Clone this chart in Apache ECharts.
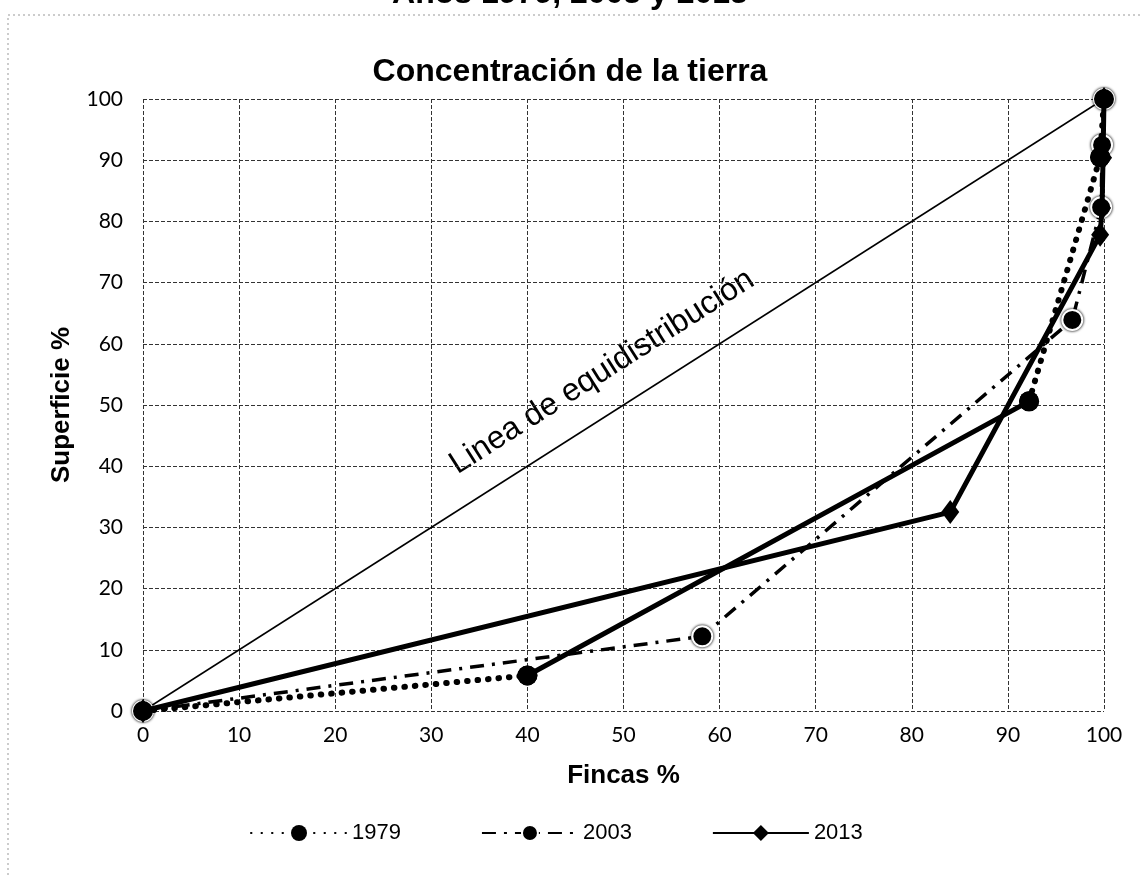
<!DOCTYPE html>
<html>
<head>
<meta charset="utf-8">
<title>Concentración de la tierra</title>
<script src="https://cdn.jsdelivr.net/npm/echarts@6/dist/echarts.min.js"></script>
<style>
  html, body { margin: 0; padding: 0; background: #fff; }
  #chart { width: 1140px; height: 875px; }
</style>
</head>
<body>
<div id="chart"></div>
<script>
  // % acumulado de fincas (x) y de superficie (y)
  var fincas1979 = [0, 40, 92.2, 99.6, 100]
  var superficie1979 = [0, 5.8, 50.6, 90.5, 100]
  // el tramo central de 1979 aparece como línea continua en el original
  var tramos1979 = ['dotted', 'solid', 'dotted', 'dotted']

  var fincas2003 = [0, 58.2, 96.7, 99.7, 99.8, 100]
  var superficie2003 = [0, 12.2, 63.9, 82.3, 92.5, 100]

  var fincas2013 = [0, 84, 99.6, 99.8, 99.9, 100]
  var superficie2013 = [0, 32.5, 77.8, 82.2, 90.4, 100]

  var equidistribucion = [0, 100]
  var años = ['1979', '2003', '2013']

  var pares = function (xs, ys) {
    return xs.map(function (x, i) { return [x, ys[i]] })
  }

  var punteado = [0.5, 10]
  var rayaPunto = [14, 8, 3, 8]

  var chart = echarts.init(document.getElementById('chart'), null, {renderer: 'canvas'})

  var series = []

  // 1979: un trazo por tramo para poder cambiar el estilo de línea
  var p1979 = pares(fincas1979, superficie1979)
  tramos1979.forEach(function (tipo, i) {
    series.push({
      name: años[0],
      type: 'line',
      data: [p1979[i], p1979[i + 1]],
      symbol: 'circle',
      symbolSize: 20,
      itemStyle: {color: '#000'},
      lineStyle: {
        color: '#000',
        width: tipo === 'solid' ? 5 : 6,
        type: tipo === 'solid' ? 'solid' : punteado,
        cap: 'round'
      },
      z: 3
    })
  })

  series.push({
    name: años[1],
    type: 'line',
    data: pares(fincas2003, superficie2003),
    symbol: 'circle',
    symbolSize: 20,
    itemStyle: {color: '#000', borderColor: '#fff', borderWidth: 2, shadowColor: '#000', shadowBlur: 3},
    lineStyle: {color: '#000', width: 3.5, type: rayaPunto},
    z: 2
  })

  series.push({
    name: años[2],
    type: 'line',
    data: pares(fincas2013, superficie2013),
    symbol: 'diamond',
    symbolSize: [18, 24],
    itemStyle: {color: '#000'},
    lineStyle: {color: '#000', width: 5, type: 'solid'},
    z: 4
  })

  series.push({
    name: 'Linea de equidistribución',
    type: 'line',
    data: pares(equidistribucion, equidistribucion),
    showSymbol: false,
    symbol: 'none',
    lineStyle: {color: '#000', width: 1.5},
    z: 1
  })

  var option = {
    backgroundColor: '#fff',
    animation: false,
    title: {
      text: 'Concentración de la tierra',
      left: 'center',
      top: 51,
      textStyle: {fontFamily: 'Liberation Sans', fontWeight: 'bold', fontSize: 32, color: '#000'}
    },
    grid: {left: 143, right: 36, top: 99, bottom: 164},
    legend: {
      data: años,
      left: 245,
      top: 817,
      itemWidth: 96,
      itemHeight: 20,
      itemGap: 80,
      textStyle: {fontFamily: 'Liberation Sans', fontSize: 22, color: '#000'}
    },
    xAxis: {
      type: 'value',
      min: 0,
      max: 100,
      interval: 10,
      name: 'Fincas %',
      nameLocation: 'middle',
      nameGap: 52,
      nameTextStyle: {fontFamily: 'Liberation Sans', fontWeight: 'bold', fontSize: 26, color: '#000'},
      axisLine: {show: false},
      axisTick: {show: false},
      axisLabel: {margin: 14, fontFamily: 'Lato', fontSize: 21, color: '#000'},
      splitLine: {lineStyle: {color: '#333', width: 1, type: [4, 2]}}
    },
    yAxis: {
      type: 'value',
      min: 0,
      max: 100,
      interval: 10,
      name: 'Superficie %',
      nameLocation: 'middle',
      nameGap: 68,
      nameTextStyle: {fontFamily: 'Liberation Sans', fontWeight: 'bold', fontSize: 26, color: '#000'},
      axisLine: {show: false},
      axisTick: {show: false},
      axisLabel: {margin: 20, fontFamily: 'Lato', fontSize: 21, color: '#000'},
      splitLine: {lineStyle: {color: '#333', width: 1, type: [4, 2]}}
    },
    graphic: [
      {
        type: 'text',
        left: 'center',
        top: -22,
        style: {text: 'Años 1979, 2003 y 2013', font: 'bold 32px "Liberation Sans"', fill: '#000'}
      },
      {
        type: 'rect',
        shape: {x: 8, y: 15, width: 1200, height: 1000},
        style: {fill: 'none', stroke: '#999', lineWidth: 1, lineDash: [2, 3]},
        silent: true
      },
      {
        type: 'text',
        x: 602,
        y: 372,
        rotation: 32.5 * Math.PI / 180,
        style: {
          text: 'Linea de equidistribución',
          font: '32px "Liberation Sans"',
          fill: '#000',
          align: 'center',
          verticalAlign: 'middle'
        }
      }
    ],
    series: series
  }

  chart.setOption(option)
</script>
</body>
</html>
